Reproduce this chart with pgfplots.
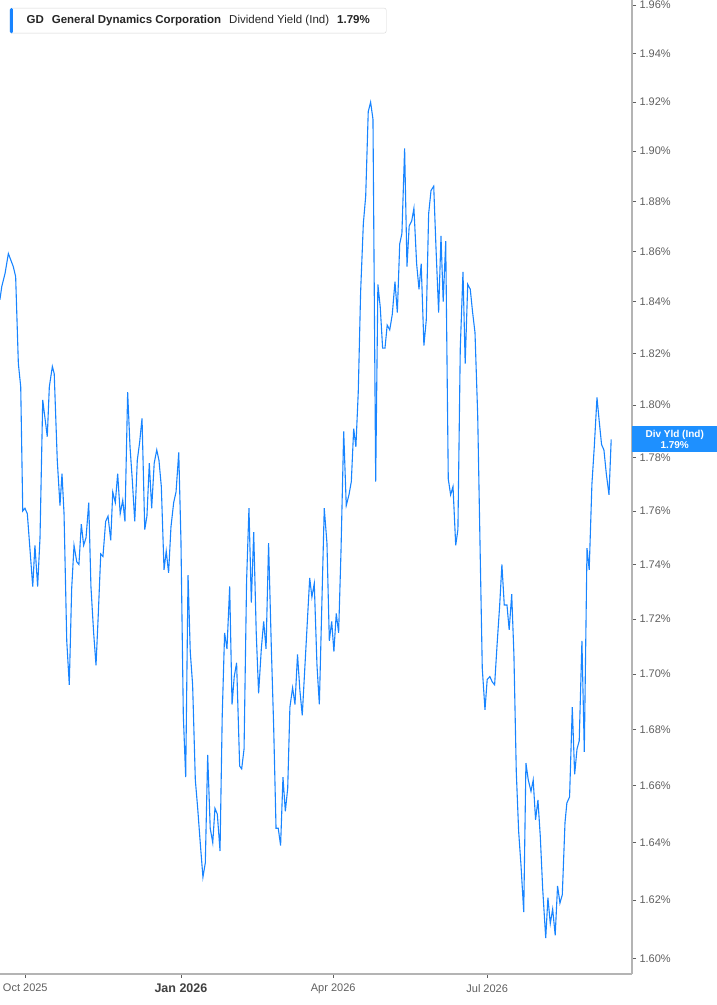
\documentclass[border=0pt]{standalone}
\usepackage{fontspec}
\setmainfont{Liberation Sans}
\usepackage{pgfplots}
\pgfplotsset{compat=1.18}
\definecolor{lineblue}{RGB}{24,132,255}
\definecolor{boxblue}{RGB}{30,144,255}
\definecolor{axgray}{RGB}{180,180,180}
\definecolor{labgray}{RGB}{95,95,95}
\begin{document}
\begin{tikzpicture}
\begin{axis}[
    scale only axis,
    width=632bp, height=974bp,
    ymode=log,
    xmin=-14.95, xmax=358.6,
    ymin=1.5948, ymax=1.9621,
    clip=false,
    axis x line*=bottom, axis y line*=right,
    every outer x axis line/.append style={-},
    every outer y axis line/.append style={-},
    axis line style={-, axgray, line width=1.4bp},
    xtick={0,92,182,273},
    xticklabels={Oct 2025,{\fontsize{12.5bp}{14bp}\selectfont\bfseries\color{black!75}Jan 2026},Apr 2026,Jul 2026},
    ytick={1.60,1.62,1.64,1.66,1.68,1.70,1.72,1.74,1.76,1.78,1.80,1.82,1.84,1.86,1.88,1.90,1.92,1.94,1.96},
    yticklabels={1.60\%,1.62\%,1.64\%,1.66\%,1.68\%,1.70\%,1.72\%,1.74\%,1.76\%,1.78\%,1.80\%,1.82\%,1.84\%,1.86\%,1.88\%,1.90\%,1.92\%,1.94\%,1.96\%},
    tick label style={font=\fontsize{11bp}{13bp}\selectfont, text=labgray},
    x tick label style={yshift=-3bp},
    tick align=outside,
    major tick length=4bp,
    tick style={labgray, line width=0.8bp},
    minor tick num=0,
]
\addplot[lineblue, line width=1.1bp] coordinates {
(-15.0,1.841) (-13.9,1.846) (-12.0,1.851) (-10.0,1.859) (-7.1,1.854) (-5.7,1.850)
(-4.1,1.816) (-2.7,1.807) (-1.5,1.760) (-0.2,1.761) (1.2,1.759) (4.4,1.732)
(5.7,1.747) (7.3,1.732) (8.7,1.750) (10.3,1.802) (13.0,1.788) (14.2,1.807)
(16.0,1.815) (17.1,1.812) (18.9,1.779) (20.5,1.762) (21.7,1.774) (22.9,1.759)
(24.5,1.712) (26.0,1.696) (27.4,1.731) (28.8,1.747) (30.4,1.741) (31.7,1.740)
(33.1,1.755) (34.5,1.747) (35.9,1.750) (37.5,1.763) (38.8,1.732) (40.4,1.715)
(41.8,1.703) (43.1,1.721) (44.6,1.744) (45.9,1.743) (47.5,1.756) (48.9,1.758)
(50.5,1.749) (51.7,1.767) (53.2,1.763) (54.6,1.774) (56.1,1.759) (57.6,1.764)
(58.9,1.756) (60.5,1.805) (61.9,1.784) (63.2,1.772) (64.7,1.756) (66.2,1.779)
(67.6,1.786) (69.0,1.795) (70.6,1.753) (71.9,1.758) (73.3,1.778) (74.7,1.761)
(76.2,1.778) (77.7,1.783) (79.0,1.779) (80.4,1.769) (82.0,1.738) (83.3,1.745)
(84.7,1.737) (86.1,1.754) (87.7,1.763) (89.1,1.767) (90.7,1.782) (92.0,1.749)
(93.4,1.685) (94.8,1.663) (96.2,1.736) (97.5,1.708) (98.9,1.696) (100.5,1.662)
(101.9,1.652) (103.4,1.640) (105.0,1.628) (106.4,1.633) (107.8,1.671) (109.3,1.645)
(110.8,1.640) (112.1,1.652) (113.5,1.650) (115.1,1.637) (116.4,1.685) (117.8,1.715)
(119.2,1.709) (120.8,1.732) (122.2,1.689) (123.5,1.699) (124.9,1.704) (126.7,1.667)
(127.9,1.666) (129.3,1.673) (130.8,1.734) (132.2,1.761) (133.6,1.726) (135.0,1.752)
(136.5,1.715) (137.9,1.693) (139.5,1.709) (140.9,1.719) (142.3,1.709) (143.8,1.748)
(145.4,1.710) (146.8,1.681) (148.2,1.645) (149.5,1.645) (150.9,1.639) (152.3,1.663)
(153.7,1.651) (155.1,1.659) (156.4,1.688) (158.0,1.695) (159.4,1.689) (160.9,1.707)
(162.3,1.694) (163.7,1.685) (168.1,1.735) (169.4,1.728) (170.8,1.733) (172.4,1.703)
(173.8,1.689) (176.7,1.761) (178.3,1.748) (179.7,1.712) (181.1,1.719) (182.4,1.708)
(183.8,1.722) (185.2,1.715) (186.6,1.745) (188.2,1.790) (189.7,1.762) (191.3,1.766)
(192.7,1.771) (194.1,1.791) (195.4,1.784) (196.8,1.805) (198.2,1.844) (199.8,1.871)
(201.2,1.882) (202.7,1.916) (204.1,1.920) (205.5,1.913) (207.1,1.771) (208.4,1.847)
(209.8,1.838) (211.2,1.822) (212.6,1.822) (213.9,1.831) (215.4,1.829) (216.9,1.835)
(218.5,1.848) (219.9,1.836) (221.3,1.863) (222.6,1.867) (224.2,1.901) (225.6,1.854)
(226.9,1.870) (228.4,1.872) (229.7,1.877) (231.3,1.855) (232.7,1.845) (234.0,1.855)
(235.6,1.823) (237.0,1.833) (238.4,1.875) (239.8,1.884) (241.4,1.886) (242.7,1.862)
(244.3,1.836) (245.7,1.866) (247.0,1.840) (248.5,1.864) (250.0,1.772) (251.4,1.766)
(252.8,1.769) (254.4,1.747) (255.7,1.753) (257.1,1.822) (258.7,1.852) (260.0,1.816)
(261.5,1.847) (263.0,1.845) (264.4,1.836) (265.8,1.828) (267.4,1.796) (268.7,1.750)
(270.1,1.702) (271.7,1.687) (273.0,1.698) (274.6,1.699) (276.0,1.697) (277.4,1.696)
(278.9,1.711) (280.4,1.725) (281.7,1.740) (283.1,1.725) (284.7,1.725) (286.0,1.716)
(287.5,1.729) (288.8,1.707) (290.2,1.665) (291.6,1.644) (293.0,1.632) (294.6,1.616)
(295.9,1.668) (297.3,1.662) (298.9,1.658) (300.2,1.662) (301.6,1.648) (303.0,1.655)
(304.4,1.642) (305.8,1.624) (307.6,1.607) (308.9,1.621) (310.3,1.612) (311.7,1.617)
(313.2,1.608) (314.6,1.625) (316.0,1.619) (317.4,1.622) (319.0,1.647) (320.1,1.654)
(321.7,1.656) (323.3,1.688) (324.7,1.664) (326.1,1.673) (327.4,1.676) (329.0,1.712)
(330.4,1.672) (332.0,1.746) (333.3,1.738) (334.9,1.770) (336.3,1.784) (337.9,1.803)
(339.2,1.794) (340.6,1.785) (342.0,1.783) (343.4,1.774) (345.0,1.766) (346.3,1.787)
};
\node[fill=boxblue, text=white, font=\fontsize{10bp}{11bp}\selectfont\bfseries,
      align=center, anchor=west, minimum width=85bp, minimum height=26bp, inner sep=0pt]
      at (axis cs:358.6,1.787) {Div Yld (Ind)\\1.79\%};
\node[anchor=north west, draw=axgray!55, fill=white, rounded corners=2bp,
      minimum width=376bp, minimum height=25bp, inner sep=0pt,
      font=\fontsize{11.5bp}{13bp}\selectfont, text=black!85] (leg)
      at ([xshift=10bp,yshift=-8bp]rel axis cs:0,1)
      {\textbf{GD}\hspace{8bp}\textbf{General Dynamics Corporation}\hspace{8bp}Dividend Yield (Ind)\hspace{8bp}\textbf{1.79\%}};
\fill[lineblue, rounded corners=1.5bp] (leg.north west) rectangle ([xshift=3bp]leg.south west);
\end{axis}
\pgfresetboundingbox
\path[use as bounding box] (0,-31bp) rectangle (717bp,974bp);
\end{tikzpicture}
\end{document}
